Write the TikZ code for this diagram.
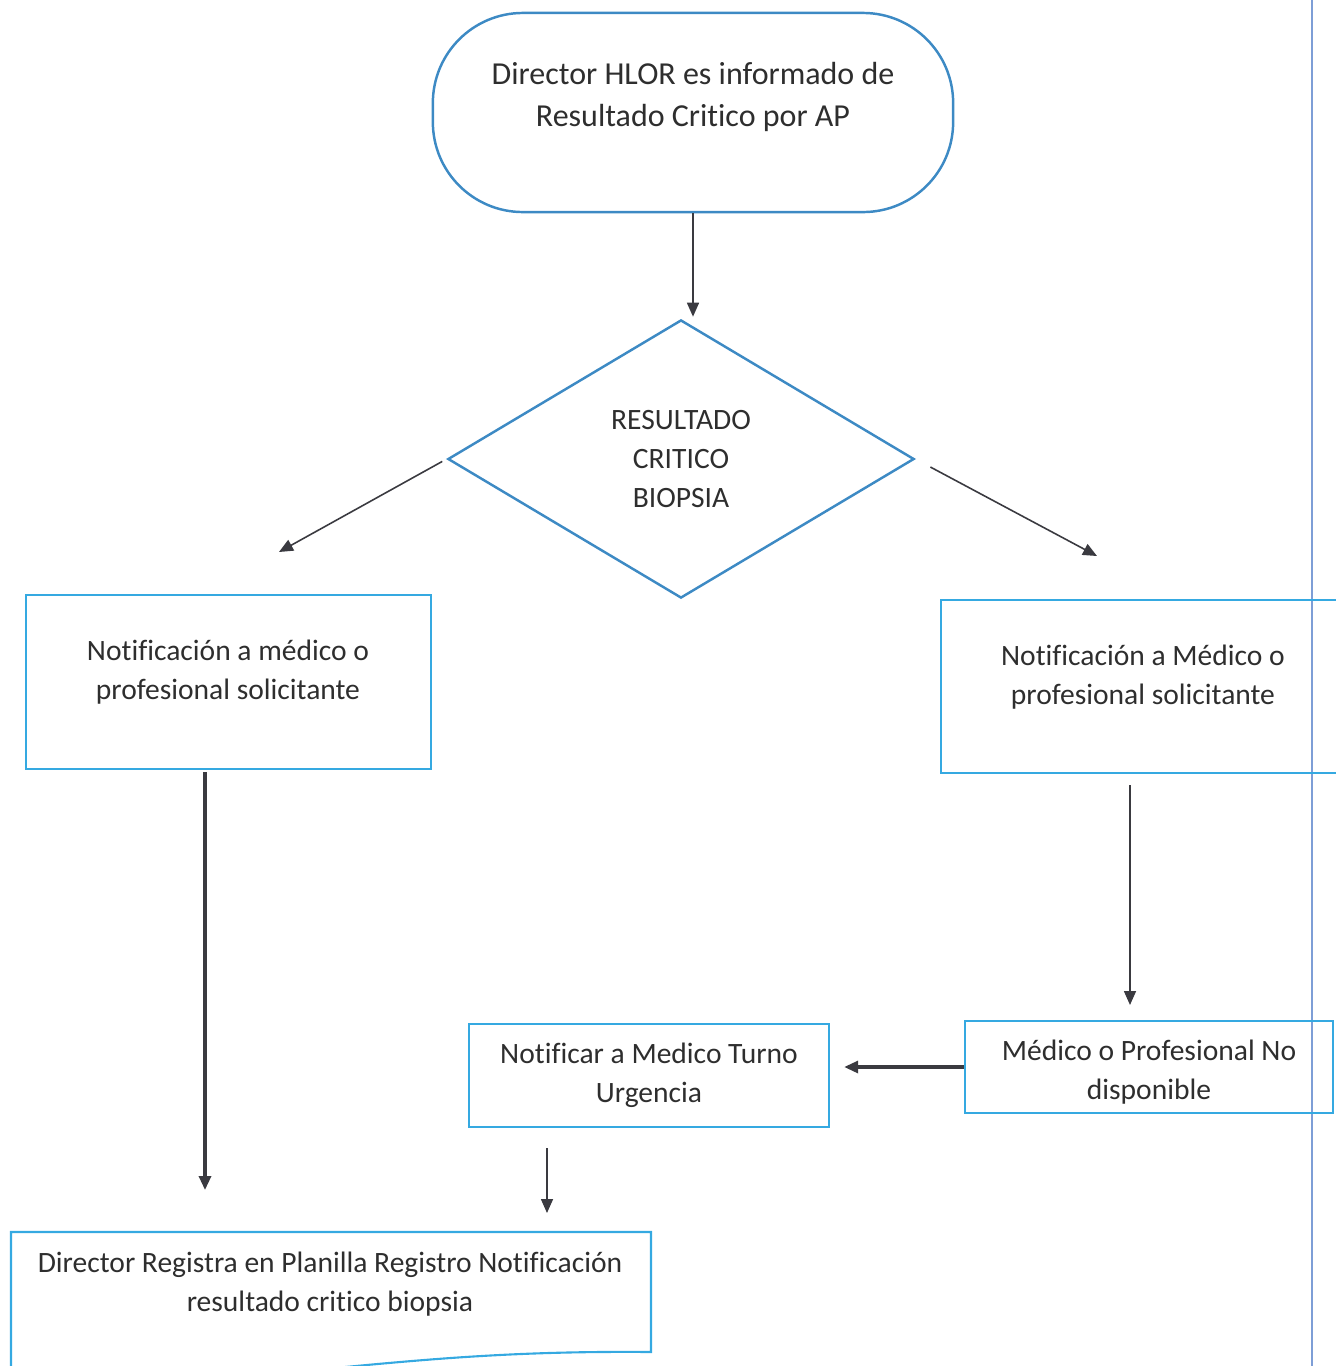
\documentclass[tikz,border=0pt]{standalone}
\usepackage{fontspec}
\setmainfont{Carlito}[Ligatures=NoCommon]
\usetikzlibrary{shapes.geometric,arrows.meta}

\definecolor{frameblue}{HTML}{3D8AC4}
\definecolor{boxblue}{HTML}{35A9E1}
\definecolor{inkgray}{HTML}{2E2E2E}
\definecolor{arrowgray}{HTML}{3A3A40}
\definecolor{pageline}{HTML}{7E9ED6}

\newcommand{\bigtxt}{\fontsize{9.1}{12}\selectfont}
\newcommand{\boxtxt}{\fontsize{8.4}{11.1}\selectfont}

\begin{document}
\begin{tikzpicture}[x=0.01cm, y=-0.01cm,
      term/.style={draw=frameblue, line width=0.7pt, rectangle, rounded corners=0.9cm,
        minimum width=5.2cm, minimum height=1.99cm},
      decision/.style={draw=frameblue, line width=0.7pt, diamond, aspect=1.676,
        minimum width=4.66cm, minimum height=2.78cm, inner sep=0pt},
      box/.style={draw=boxblue, line width=0.6pt, rectangle, inner sep=0pt},
      txt/.style={text=inkgray, align=center, inner sep=0pt, font=\boxtxt},
      flow/.style={draw=arrowgray, line width=0.45pt, -{Triangle[length=1.4mm,width=1.2mm]}},
      flowthick/.style={flow, line width=0.9pt}]
      \useasboundingbox (0, 0) rectangle (1335, 1366);

      \draw[pageline, line width=0.4pt] (1312, 0) -- (1312, 1366);

      \node[term] (start) at (693, 112.5) {};
      \node[txt, font=\bigtxt] (startTxt) at (693, 97) {Director HLOR es informado de\\Resultado Critico por AP};

      \node[decision] (dec) at (681, 459) {};
      \node[txt] (decTxt) at (681, 459) {RESULTADO\\CRITICO\\BIOPSIA};

      \node[box, minimum width=4.05cm, minimum height=1.74cm] (lbox) at (228.5, 682) {};
      \node[txt] (lboxTxt) at (228, 672) {Notificación a médico o\\profesional solicitante};

      \node[box, minimum width=4.04cm, minimum height=1.73cm] (rbox) at (1143, 686.5) {};
      \node[txt] (rboxTxt) at (1143, 677) {Notificación a Médico o\\profesional solicitante};

      \node[box, minimum width=3.68cm, minimum height=0.92cm] (ndisp) at (1149, 1067) {};
      \node[txt] (ndispTxt) at (1149, 1072) {Médico o Profesional No\\disponible};

      \node[box, minimum width=3.60cm, minimum height=1.03cm] (urg) at (649, 1075.5) {};
      \node[txt] (urgTxt) at (649, 1075) {Notificar a Medico Turno\\Urgencia};

      \draw[boxblue, line width=0.6pt] (11, 1400) -- (11, 1232) -- (651, 1232) -- (651, 1352)
        .. controls (420, 1350) and (330, 1375) .. (11, 1395);
      \node[txt] (reg) at (330, 1284) {Director Registra en Planilla Registro Notificación\\resultado critico biopsia};

      \coordinate (lTip) at (279, 552);
      \coordinate (rTip) at (1097, 556);
      \coordinate (lDown) at (205, 1190);
      \coordinate (rDown) at (1130, 1005);
      \coordinate (uDown) at (547, 1213);

      \draw[flow, shorten >=0.02cm] (start) -- (start |- dec.north);
      \draw[flow, shorten <=0.05cm] (dec.west) -- (lTip);
      \draw[flow, shorten <=0.17cm] (dec.east) -- (rTip);
      \draw[flowthick, shorten <=0.02cm] (lDown |- lbox.south) -- (lDown);
      \draw[flow, shorten <=0.11cm] (rDown |- rbox.south) -- (rDown);
      \draw[flowthick, shorten >=0.14cm] (ndisp.west) -- (ndisp.west -| urg.east);
      \draw[flow, shorten <=0.2cm] (uDown |- urg.south) -- (uDown);
    \end{tikzpicture}
\end{document}
